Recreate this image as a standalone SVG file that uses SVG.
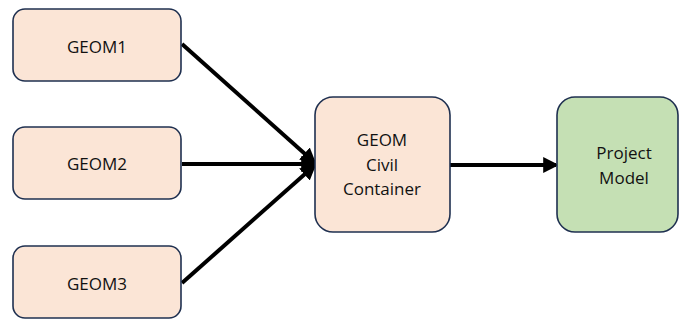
<svg xmlns="http://www.w3.org/2000/svg" width="680" height="320" viewBox="0 0 680 320">
<style>
.n{fill:#FBE5D6;stroke:#1F3050;stroke-width:1.6}
.g{fill:#C5E0B4;stroke:#1F3050;stroke-width:1.6}
text{font-family:"Open Sans","Liberation Sans",sans-serif;font-size:17px;fill:#111;text-anchor:middle;dominant-baseline:central}
.c{stroke:#000;stroke-width:4;fill:none;marker-end:url(#ah)}
</style>
<defs>
<marker id="ah" markerWidth="4" markerHeight="4" refX="3.2" refY="2" orient="auto" markerUnits="strokeWidth">
<path d="M0,0 L4,2 L0,4 z" fill="#000"/>
</marker>
</defs>
<rect width="680" height="320" fill="#fff"/>
<g id="connectors">
<line class="c" x1="182" y1="44" x2="314" y2="162"/>
<line class="c" x1="182" y1="164" x2="314" y2="164"/>
<line class="c" x1="182" y1="283" x2="314" y2="166"/>
<line class="c" x1="450" y1="165" x2="556" y2="165"/>
</g>
<g id="geom1"><rect class="n" x="13" y="9" width="168" height="72" rx="12"/><text x="97" y="46">GEOM1</text></g>
<g id="geom2"><rect class="n" x="13" y="127" width="168" height="72" rx="12"/><text x="97" y="163">GEOM2</text></g>
<g id="geom3"><rect class="n" x="13" y="246" width="168" height="72" rx="12"/><text x="97" y="283">GEOM3</text></g>
<g id="container"><rect class="n" x="315" y="97" width="135" height="135" rx="18"/>
<text x="382" y="139">GEOM</text><text x="382" y="164">Civil</text><text x="382" y="188">Container</text></g>
<g id="project"><rect class="g" x="557" y="97" width="121" height="135" rx="18"/>
<text x="624" y="152">Project</text><text x="624" y="177">Model</text></g>
</svg>
